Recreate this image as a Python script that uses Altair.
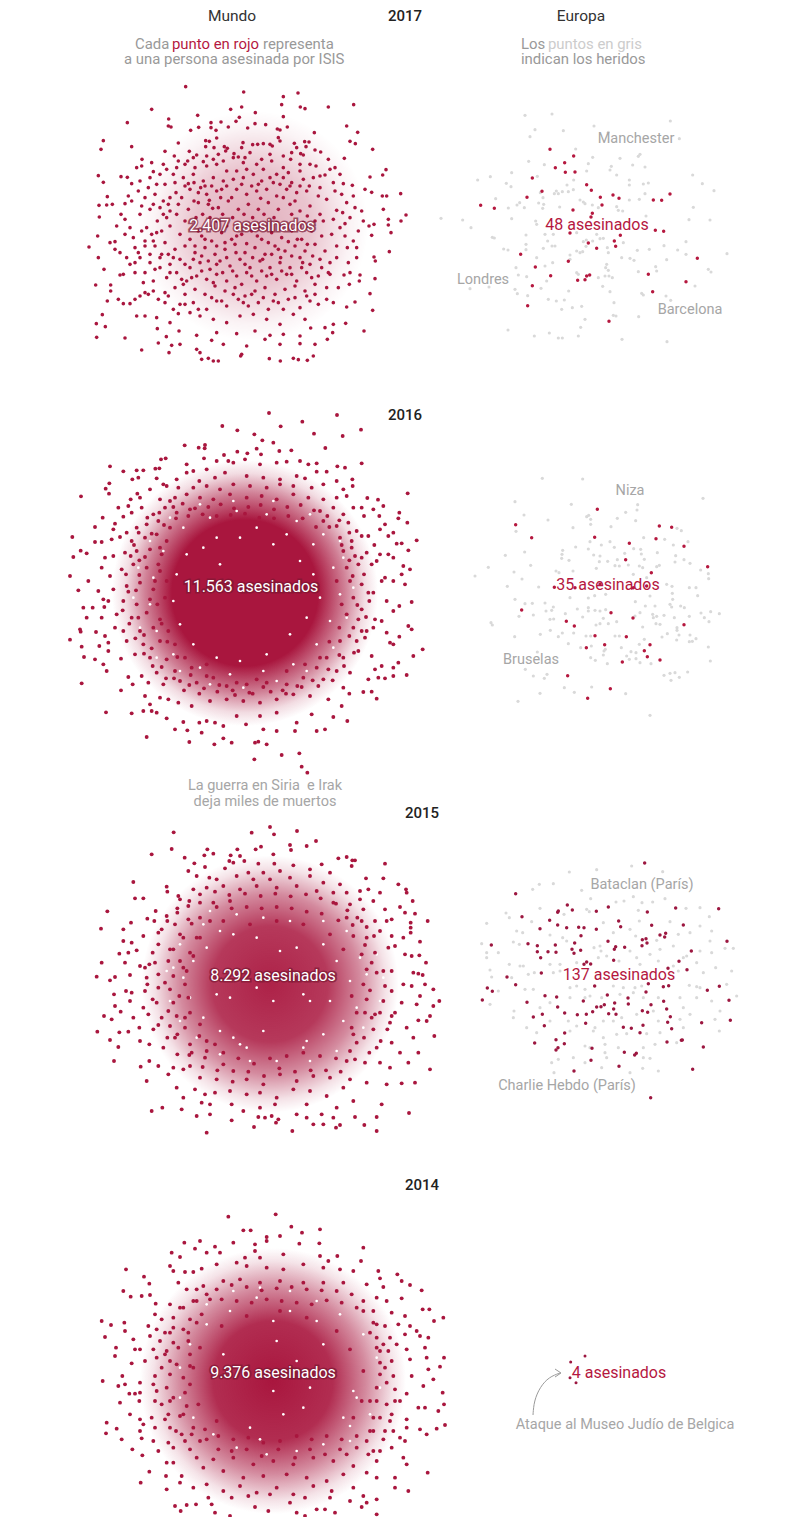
import altair as alt
import pandas as pd

RED = "#a9163e"
TXT_RED = "#b5183f"
GREY_DOT = "#d9d9d9"
GREY_TXT = "#a6a6a6"

eu2017_killed = [(360,445),(431,465),(404,485),(376,500),(406,514),(435,513),(307,531),(470,551),(484,568),(336,571),(291,589),(511,589),(549,582),(567,592),(720,579),(670,597),(695,598),(516,612),(152,613),(193,622),(429,627),(487,637),(483,648),(676,688),(701,691),(420,696),(571,703),(553,720),(475,726),(557,736),(500,742),(272,760),(802,772),(415,781),(316,798),(655,820),(479,822),(470,825),(362,824),(443,838),(465,836),(768,842),(307,854),(668,872),(293,914),(537,961)]
eu2017_injured = [(285,343),(366,339),(721,360),(492,375),(315,386),(400,389),(535,394),(300,407),(748,413),(437,444),(630,460),(625,466),(570,472),(488,469),(296,481),(343,491),(475,488),(544,496),(540,507),(608,492),(645,498),(470,510),(245,515),(181,527),(143,537),(229,547),(243,557),(322,526),(788,522),(560,522),(598,537),(598,552),(431,537),(411,552),(817,548),(852,569),(655,546),(640,549),(645,578),(430,566),(415,572),(397,572),(379,570),(373,578),(385,578),(331,575),(197,593),(269,605),(261,612),(235,621),(283,620),(326,606),(339,590),(341,610),(338,622),(450,597),(460,603),(465,608),(389,618),(487,612),(505,620),(560,617),(565,628),(578,630),(598,597),(628,595),(790,619),(33,652),(98,657),(123,680),(245,653),(317,660),(320,670),(648,645),(777,656),(840,657),(187,709),(193,711),(288,702),(288,730),(288,746),(221,744),(234,747),(345,700),(353,720),(370,700),(340,742),(366,735),(375,735),(440,695),(500,700),(520,712),(510,713),(469,717),(460,722),(488,720),(468,736),(532,740),(535,755),(580,725),(622,748),(658,745),(702,734),(743,747),(768,722),(768,760),(891,758),(710,776),(320,770),(258,800),(265,822),(290,827),(345,795),(368,785),(420,762),(420,775),(440,750),(450,755),(458,752),(530,790),(527,800),(535,808),(575,770),(600,772),(612,778),(625,812),(677,797),(680,810),(835,805),(843,813),(525,825),(537,825),(547,830),(505,830),(518,856),(440,815),(445,820),(350,840),(333,862),(255,865),(262,878),(293,884),(120,863),(177,858),(355,895),(379,900),(403,897),(416,870),(540,872),(635,877),(640,882),(708,885),(722,898),(795,855),(552,905),(395,925),(427,920),(455,916),(550,943),(558,945),(626,947),(465,955),(452,979),(234,987),(358,996),(313,1005),(385,1011),(397,1011),(445,1005),(576,1015),(711,1022)]

eu2016_killed = [(412,115),(167,161),(598,165),(635,169),(215,200),(404,199),(588,203),(508,217),(672,226),(497,266),(743,287),(574,305),(283,349),(185,417),(453,425),(519,441),(319,451),(343,465),(672,461),(405,494),(499,497),(434,521),(570,521),(379,530),(553,539),(562,557),(600,567),(487,573),(323,614),(451,653),(383,682),(345,350),(420,340),(520,350),(560,345)]
eu2016_injured = [(247,22),(368,24),(729,82),(165,92),(334,100),(533,101),(531,117),(497,124),(192,132),(264,147),(380,137),(386,133),(392,145),(527,149),(472,142),(392,160),(453,167),(339,170),(651,172),(664,179),(168,181),(551,200),(684,212),(614,205),(390,212),(424,222),(450,212),(463,229),(347,228),(385,234),(494,247),(542,235),(544,249),(521,233),(640,222),(592,245),(647,254),(308,238),(306,250),(305,262),(194,243),(136,253),(327,268),(401,252),(420,255),(418,272),(472,266),(443,271),(553,265),(672,266),(645,273),(690,277),(212,283),(85,289),(465,284),(478,285),(505,282),(538,285),(548,290),(598,283),(590,287),(409,292),(162,303),(288,300),(297,305),(339,300),(520,310),(722,297),(45,315),(186,324),(745,308),(746,323),(560,320),(620,340),(636,346),(142,346),(236,348),(688,350),(708,350),(713,374),(404,374),(437,370),(385,381),(330,380),(570,375),(637,367),(638,385),(165,385),(195,398),(217,397),(255,396),(280,408),(258,420),(275,418),(352,414),(385,410),(405,418),(420,420),(437,416),(526,392),(556,405),(585,405),(630,400),(635,408),(662,405),(673,410),(220,432),(177,436),(270,445),(281,444),(316,428),(368,438),(385,420),(430,442),(470,452),(445,458),(540,425),(525,435),(578,430),(590,436),(612,433),(580,440),(643,440),(688,436),(723,426),(733,440),(752,422),(778,428),(747,452),(93,455),(97,462),(588,458),(600,460),(408,462),(420,458),(271,478),(241,490),(164,497),(295,497),(307,486),(341,486),(378,495),(392,495),(465,495),(478,495),(548,468),(606,498),(622,488),(651,470),(651,478),(657,492),(650,507),(690,492),(708,503),(697,511),(688,512),(745,528),(325,518),(362,530),(394,525),(484,530),(538,520),(553,505),(513,542),(528,545),(500,555),(432,540),(436,535),(430,552),(392,560),(406,568),(442,578),(508,565),(528,563),(540,575),(573,578),(751,570),(232,543),(196,595),(220,615),(253,622),(261,610),(612,613),(630,607),(645,605),(633,628),(658,619),(683,603),(313,650),(395,648),(240,667),(343,664),(497,668),(174,691),(570,733)]

eu2015_killed = [(524,36),(137,128),(292,162),(265,180),(307,177),(263,184),(379,181),(415,168),(617,171),(746,173),(532,183),(156,197),(239,208),(446,210),(452,227),(545,223),(640,222),(263,222),(210,233),(290,230),(326,229),(342,230),(379,235),(333,254),(570,252),(587,247),(584,258),(528,263),(517,266),(531,276),(516,284),(771,271),(64,282),(174,278),(202,284),(256,282),(314,276),(414,271),(464,289),(437,287),(433,295),(202,302),(234,302),(258,304),(306,295),(312,307),(332,298),(664,300),(212,320),(431,328),(627,331),(350,333),(362,339),(342,340),(594,352),(651,356),(214,366),(111,378),(137,401),(374,405),(535,398),(580,407),(596,404),(748,406),(712,418),(52,411),(67,421),(528,423),(225,434),(260,438),(412,432),(474,441),(37,447),(171,454),(340,450),(475,459),(434,456),(403,461),(393,467),(380,468),(263,468),(543,461),(581,451),(777,448),(590,474),(368,482),(431,474),(517,479),(533,484),(217,490),(284,486),(322,491),(349,490),(416,488),(438,490),(190,498),(601,497),(593,514),(695,515),(781,508),(347,517),(223,524),(460,529),(484,532),(519,523),(605,533),(284,546),(510,545),(258,566),(194,576),(283,578),(591,573),(637,567),(634,568),(700,588),(264,590),(258,597),(366,592),(463,604),(499,607),(494,612),(363,628),(447,646),(668,655),(312,660),(542,740)]
eu2015_injured = [(380,56),(485,45),(298,63),(578,62),(208,100),(250,98),(188,115),(335,118),(490,137),(362,143),(462,150),(438,153),(585,143),(548,153),(516,155),(108,186),(118,200),(185,212),(50,217),(210,172),(282,190),(350,175),(358,182),(508,210),(505,178),(690,170),(718,197),(648,172),(600,212),(140,240),(158,245),(240,252),(278,260),(400,215),(430,245),(480,235),(497,255),(690,225),(660,245),(625,250),(725,240),(35,278),(130,273),(148,280),(50,305),(50,320),(85,305),(290,270),(372,290),(390,285),(393,300),(560,268),(720,270),(790,292),(765,292),(570,295),(610,285),(480,300),(540,310),(500,320),(650,315),(640,320),(690,300),(725,305),(118,340),(150,345),(160,345),(240,340),(270,340),(320,335),(385,320),(410,315),(447,330),(510,340),(565,330),(610,345),(680,335),(737,350),(60,357),(65,378),(125,380),(175,370),(193,365),(250,365),(270,360),(625,360),(700,365),(785,360),(165,415),(190,415),(300,410),(320,405),(345,415),(430,405),(460,410),(495,410),(515,405),(658,403),(680,407),(690,410),(770,400),(800,435),(60,460),(85,420),(132,480),(210,470),(240,455),(300,440),(345,440),(360,435),(395,440),(450,430),(490,425),(520,440),(565,440),(630,440),(680,440),(640,470),(725,450),(750,480),(240,510),(295,510),(320,525),(400,510),(430,510),(455,500),(500,490),(550,480),(565,510),(630,505),(660,490),(735,505),(130,500),(170,530),(300,540),(370,540),(375,530),(400,560),(440,550),(470,548),(530,548),(570,545),(640,530),(748,540),(200,545),(345,585),(360,590),(405,580),(445,590),(520,590),(555,580),(620,575),(265,625),(245,635),(310,620),(405,605),(410,620),(520,620),(540,622),(395,650),(518,652),(565,660),(252,665),(480,665),(345,635)]

eu2014_killed = [(255,45),(212,63),(210,110),(228,125)]

world2017 = [(347,257),(521,273),(684,276),(640,287),(635,311),(515,318),(482,325),(691,318),(705,323),(775,318),(851,311),(245,325),(556,335),(383,343),(296,354),(172,365),(640,347),(508,349),(498,361),(453,363),(423,365),(830,375),(295,375),(303,378),(362,388),(386,379),(423,380),(438,388),(475,378),(533,381),(555,368),(587,371),(622,384),(630,387),(652,378),(733,395),(863,394),(100,419),(93,445),(185,437),(325,426),(407,419),(418,421),(440,411),(625,410),(630,420),(704,422),(717,423),(840,421),(856,428),(908,445),(358,451),(285,451),(463,437),(472,442),(432,440),(407,437),(519,425),(515,440),(548,431),(563,430),(580,428),(600,430),(607,435),(673,427),(680,440),(708,437),(735,447),(752,453),(775,475),(823,472),(467,450),(492,458),(505,468),(525,470),(600,460),(692,458),(700,462),(216,475),(245,485),(280,490),(313,465),(325,480),(353,480),(380,462),(400,482),(430,475),(460,480),(490,470),(520,485),(560,490),(605,480),(640,500),(662,475),(690,490),(720,490),(738,495),(200,500),(215,495),(250,512),(290,505),(320,500),(345,490),(375,500),(410,495),(440,490),(470,510),(500,510),(530,505),(580,505),(620,520),(655,515),(690,510),(750,525),(780,505),(900,528),(938,522),(948,506),(85,524),(153,527),(172,529),(100,544),(185,548),(210,540),(240,530),(270,520),(310,520),(340,530),(370,520),(400,540),(430,530),(460,540),(490,535),(520,530),(550,520),(575,540),(610,545),(640,530),(665,545),(700,535),(730,530),(765,522),(790,545),(820,548),(847,553),(885,565),(905,574),(112,587),(87,613),(110,612),(127,610),(175,585),(185,600),(165,608),(205,570),(235,560),(255,580),(285,550),(315,545),(345,555),(360,565),(385,575),(410,580),(440,570),(470,555),(500,565),(530,580),(560,570),(590,565),(620,585),(650,565),(680,575),(710,570),(745,585),(770,595),(795,570),(830,605),(855,620),(937,585),(950,585),(992,578),(940,625),(1008,642),(88,648),(153,640),(165,655),(210,640),(240,625),(270,620),(295,610),(325,610),(355,625),(385,605),(415,610),(445,620),(475,600),(505,625),(535,610),(565,625),(595,605),(625,625),(660,610),(690,630),(720,615),(750,640),(800,628),(818,635),(875,630),(955,655),(993,660),(140,675),(180,680),(230,680),(262,660),(290,650),(320,640),(345,660),(700,665),(760,660),(790,655),(825,668),(880,660),(912,670),(897,675),(955,672),(963,695),(83,705),(120,725),(135,722),(165,700),(190,710),(215,690),(245,700),(275,690),(300,675),(330,700),(360,715),(395,705),(425,720),(455,695),(485,715),(515,700),(545,690),(575,715),(605,695),(635,710),(665,690),(695,715),(725,690),(755,705),(785,700),(810,680),(905,703),(57,738),(135,745),(150,755),(195,740),(225,735),(255,735),(285,725),(315,745),(345,735),(375,755),(405,740),(435,760),(465,745),(495,730),(525,755),(555,740),(585,760),(615,735),(645,750),(675,735),(705,750),(735,730),(765,750),(800,735),(832,740),(860,740),(958,752),(85,770),(170,770),(180,790),(210,770),(240,785),(270,770),(300,790),(330,775),(360,800),(390,785),(420,805),(450,780),(480,795),(510,775),(540,800),(570,780),(600,800),(630,785),(660,800),(690,770),(720,790),(750,775),(780,785),(835,785),(912,768),(916,780),(102,805),(150,822),(160,820),(195,815),(225,815),(255,805),(290,830),(320,815),(350,840),(380,825),(410,835),(440,820),(470,840),(500,825),(530,815),(560,840),(590,825),(620,835),(650,820),(680,840),(710,815),(745,825),(775,815),(822,822),(840,815),(870,822),(915,833),(77,852),(122,852),(220,845),(250,840),(285,875),(315,860),(345,880),(375,865),(405,880),(435,855),(465,870),(495,860),(525,885),(555,870),(585,860),(615,880),(645,865),(675,855),(705,870),(735,850),(770,860),(805,860),(838,850),(868,840),(900,878),(122,870),(112,900),(145,895),(160,908),(180,908),(195,895),(235,880),(265,895),(295,885),(330,910),(370,905),(410,925),(440,900),(470,915),(505,895),(535,915),(565,905),(595,925),(625,905),(655,895),(690,920),(720,900),(745,910),(855,903),(830,918),(97,941),(200,945),(225,945),(260,950),(300,965),(325,938),(360,935),(390,945),(430,955),(470,965),(510,945),(550,940),(590,955),(630,970),(670,940),(705,955),(790,970),(908,928),(79,968),(106,977),(80,1009),(165,1011),(262,983),(289,1007),(327,990),(380,1003),(440,995),(500,998),(555,990),(600,1003),(640,1000),(690,1005),(722,981),(765,980),(788,995),(827,967),(882,990),(215,1047),(265,1026),(305,1033),(330,1030),(297,1055),(380,1045),(390,1055),(425,1018),(460,1030),(515,1060),(530,1035),(585,1015),(630,1030),(690,1028),(735,1030),(772,1015),(395,1075),(415,1072),(430,1080),(445,1080),(512,1065),(598,1073),(631,1080),(670,1072),(685,1076),(712,1078),(730,1065)]
world2017_more = [(355,548),(372,545),(392,560),(418,598),(428,622),(452,590),(458,640),(488,650),(522,640),(548,650),(572,592),(582,640),(612,650),(640,590),(665,640),(675,600),(398,640),(378,650),(420,650),(440,660),(470,675),(498,680),(528,668),(555,672),(585,685),(620,665),(650,680),(678,670),(712,645),(735,660),(385,690),(405,715),(440,735),(465,725),(500,705),(530,728),(562,705),(595,725),(625,745),(655,722),(682,715),(712,730),(375,735),(395,765),(415,780),(440,790),(470,770),(498,755),(525,790),(548,770),(578,775),(605,760),(632,770),(665,765),(698,785),(728,765),(370,775),(345,790),(310,770),(295,760),(340,850),(365,830),(395,810),(430,845),(458,815),(488,810),(515,850),(545,825),(575,810),(605,820),(635,810),(665,820),(695,800),(725,830),(755,800),(280,600),(300,590),(318,575),(335,590),(372,600),(405,555),(425,555),(455,565),(485,590),(515,550),(545,555),(565,550),(600,530),(630,550),(660,555),(690,555),(718,555),(750,560),(260,550),(225,590),(250,610),(215,615),(280,640),(300,630),(260,695),(250,720),(225,720),(205,755),(275,760),(195,785),(240,760),(270,800),(300,815),(335,835),(225,875),(250,870),(210,885),(285,905),(310,925),(345,910),(385,925),(425,890),(455,900),(490,880),(520,905),(545,880),(580,890),(610,900),(640,925),(675,890),(710,885),(735,880),(770,895),(790,905),(370,470),(410,465),(445,460),(540,455),(575,475),(640,465),(665,455),(795,500),(810,520),(815,580),(850,585),(840,650),(865,690),(825,705),(850,720),(800,770),(860,770),(780,820)]

world2016 = [(627,36),(831,42),(487,75),(662,76),(727,62),(532,88),(583,100),(762,98),(848,105),(903,86),(607,118),(640,125),(374,133),(416,140),(435,132),(434,142),(590,143),(658,150),(694,148),(796,141),(532,152),(562,157),(603,160),(432,172),(492,162),(317,172),(303,175),(150,196),(190,211),(230,208),(250,208),(286,203),(298,202),(380,190),(400,210),(440,205),(470,180),(505,180),(520,185),(555,175),(600,190),(650,185),(680,182),(720,180),(745,190),(770,187),(832,196),(855,200),(905,187),(770,212),(800,212),(217,235),(235,230),(290,232),(350,235),(380,215),(418,240),(465,230),(495,215),(560,225),(610,230),(660,235),(710,225),(735,232),(830,240),(877,235),(878,255),(148,247),(137,263),(147,278),(63,286),(232,278),(270,265),(310,250),(320,255),(355,260),(400,260),(440,255),(480,265),(520,250),(570,255),(620,260),(660,250),(700,255),(755,260),(790,250),(850,265),(1043,277),(212,295),(175,320),(205,315),(240,290),(300,295),(345,290),(380,280),(420,290),(460,295),(510,280),(560,290),(605,285),(650,295),(700,280),(745,290),(790,295),(830,290),(860,285),(922,291),(954,296),(970,315),(940,325),(905,320),(128,350),(105,378),(165,368),(190,347),(215,335),(245,320),(280,340),(315,320),(350,335),(390,325),(780,330),(820,320),(850,340),(880,320),(912,345),(1018,335),(1015,352),(958,345),(160,385),(200,395),(230,380),(260,370),(295,360),(330,380),(790,360),(830,375),(865,365),(890,390),(925,405),(975,370),(960,385),(1042,365),(1000,395),(985,405),(37,408),(155,415),(180,408),(215,420),(255,410),(290,400),(320,420),(840,410),(875,420),(905,405),(1070,418),(1025,427),(1010,428),(943,432),(105,423),(125,423),(62,449),(80,457),(40,468),(135,470),(160,465),(195,455),(230,450),(270,445),(305,460),(850,450),(885,465),(920,455),(1045,448),(960,460),(985,460),(1000,470),(30,525),(125,500),(150,525),(185,505),(220,490),(260,500),(300,510),(860,500),(895,490),(935,490),(950,480),(1030,495),(1050,505),(1025,520),(85,540),(55,568),(115,570),(160,565),(200,555),(240,545),(280,565),(320,540),(870,540),(905,550),(975,530),(1000,540),(965,540),(1035,550),(130,595),(145,600),(190,600),(230,610),(270,595),(315,590),(880,590),(925,575),(940,575),(980,600),(1055,603),(1018,615),(1000,630),(70,620),(98,620),(133,618),(80,650),(125,650),(170,640),(215,650),(260,635),(300,655),(860,640),(905,625),(945,655),(965,660),(60,685),(62,692),(108,693),(165,680),(190,690),(240,690),(280,680),(325,690),(880,680),(920,690),(940,680),(1045,675),(1055,685),(980,695),(30,716),(135,705),(145,725),(200,720),(250,730),(300,720),(345,730),(840,720),(890,720),(915,710),(1018,707),(990,725),(1000,730),(65,737),(118,735),(145,750),(105,775),(72,768),(183,773),(225,760),(270,770),(320,775),(375,770),(800,770),(850,770),(895,750),(935,765),(1088,745),(1060,765),(130,790),(140,810),(205,828),(245,825),(290,815),(345,810),(395,800),(440,790),(770,800),(830,810),(870,815),(925,835),(965,795),(945,805),(1000,800),(1015,785),(1000,825),(1040,822),(975,832),(955,830),(65,847),(183,868),(218,850),(265,845),(310,850),(360,840),(410,845),(460,830),(500,855),(560,850),(620,845),(680,850),(730,830),(790,835),(850,860),(910,873),(935,872),(950,893),(868,878),(138,934),(215,937),(255,885),(270,910),(300,890),(325,895),(355,905),(395,915),(450,900),(500,895),(550,900),(600,905),(650,895),(700,880),(750,885),(805,895),(845,915),(250,930),(275,930),(290,935),(320,952),(370,963),(418,965),(440,960),(465,965),(490,975),(530,945),(558,970),(600,945),(650,935),(710,965),(755,940),(820,948),(862,960),(345,985),(382,988),(425,995),(260,1008),(388,1023),(463,1030),(490,1012),(515,1025),(610,985),(650,990),(705,990),(770,990),(795,985),(585,1025),(595,1022),(620,1030),(665,1062),(718,1057),(583,1075),(725,1097),(742,1115)]
world2016_more = [(330,300),(368,308),(405,322),(445,318),(482,310),(522,322),(565,318),(602,312),(642,325),(682,318),(722,312),(762,328),(802,345),(838,358),(868,395),(298,335),(262,350),(236,395),(222,432),(212,465),(238,478),(198,520),(205,572),(188,628),(208,668),(226,712),(252,758),(278,795),(318,832),(372,868),(418,878),(472,872),(525,882),(578,878),(632,872),(678,878),(725,858),(775,855),(818,838),(852,795),(882,755),(905,690),(918,648),(928,600),(912,520),(905,470),(875,440),(340,318),(385,345),(428,340),(470,345),(512,342),(555,338),(598,350),(642,352),(685,345),(728,352),(768,378),(808,378),(845,432),(868,478),(878,525),(892,612),(895,655),(868,705),(838,762),(805,805),(758,838),(712,855),(668,868),(610,858),(568,875),(518,868),(478,852),(432,862),(388,852),(342,832),(305,798),(275,742),(252,702),(235,650),(228,568),(238,522),(255,468),(275,398),(312,372),(348,352),(300,440),(295,490),(285,540),(292,610),(305,668),(322,722),(352,768),(392,822),(830,540),(845,610),(838,680),(808,722),(780,770),(735,790),(680,810),(590,835),(530,845),(440,825)]
gaps2016 = [(430,440),(480,490),(540,410),(640,430),(720,480),(760,520),(780,590),(740,650),(690,700),(620,760),(540,780),(470,770),(400,730),(360,670),(340,600),(350,520),(380,460),(470,410),(590,380),(680,400),(760,430),(820,500),(840,580),(810,660),(770,730),(700,790),(610,810),(510,820),(420,800),(340,760),(290,690),(270,610),(280,530),(310,450),(370,380),(450,350),(530,330),(620,340),(710,360),(790,400),(850,470),(880,560),(860,650),(820,740),(740,810),(650,840),(550,860),(450,850),(360,810),(290,770),(240,680),(220,590),(235,500),(270,420),(330,350),(420,310),(520,300),(640,300),(750,340),(840,420)]

world2015 = [(251,34),(485,35),(540,18),(621,30),(552,40),(245,84),(185,100),(678,60),(600,72),(603,87),(650,75),(513,77),(497,85),(352,85),(442,85),(343,103),(370,98),(284,110),(422,103),(450,105),(550,100),(745,112),(770,108),(787,118),(795,118),(313,127),(418,120),(430,125),(463,120),(505,128),(553,128),(610,133),(695,130),(785,135),(885,128),(295,150),(345,138),(405,142),(475,155),(520,155),(570,150),(660,145),(720,155),(130,183),(230,197),(232,212),(265,225),(320,165),(358,170),(380,175),(440,165),(490,175),(540,175),(600,170),(660,165),(700,185),(750,190),(828,172),(880,172),(925,190),(948,205),(160,232),(135,232),(270,235),(310,205),(350,200),(400,195),(450,205),(500,195),(560,200),(620,195),(680,210),(730,215),(770,215),(810,210),(835,205),(870,215),(810,235),(850,240),(968,240),(950,215),(52,271),(100,325),(123,305),(197,270),(172,293),(193,300),(230,285),(262,275),(295,255),(330,245),(370,245),(420,240),(730,245),(780,250),(820,265),(885,265),(930,258),(945,275),(975,278),(1013,300),(962,305),(962,320),(962,335),(33,323),(160,345),(125,365),(100,360),(215,325),(255,310),(295,295),(330,290),(360,300),(770,290),(815,300),(855,300),(890,300),(905,295),(140,388),(115,395),(88,398),(205,370),(240,385),(280,350),(320,350),(790,345),(830,350),(870,330),(905,345),(990,362),(940,350),(105,425),(35,425),(150,435),(165,440),(195,425),(235,420),(270,420),(310,405),(815,400),(855,395),(895,380),(915,375),(945,400),(965,405),(988,403),(1008,425),(20,467),(60,478),(75,468),(120,462),(170,470),(205,460),(250,465),(290,450),(830,445),(880,450),(905,450),(970,455),(985,458),(998,462),(1005,490),(72,520),(108,510),(125,515),(165,510),(205,500),(240,505),(285,490),(820,490),(885,495),(905,510),(940,490),(965,495),(990,525),(1030,505),(75,555),(120,540),(160,560),(200,545),(250,545),(295,530),(830,535),(880,540),(935,545),(980,550),(1030,555),(1048,540),(42,585),(65,595),(92,572),(130,590),(175,580),(215,590),(260,585),(300,575),(800,575),(855,580),(915,575),(985,598),(1010,600),(1020,585),(22,632),(88,634),(115,632),(148,620),(190,625),(240,615),(285,620),(330,610),(785,620),(850,625),(900,605),(950,620),(1033,645),(60,657),(85,678),(150,660),(178,670),(220,680),(255,650),(300,670),(350,660),(800,665),(860,680),(905,665),(930,695),(970,650),(985,695),(72,720),(152,737),(178,720),(205,735),(250,740),(300,735),(345,710),(400,730),(770,720),(825,725),(870,725),(900,740),(955,725),(1020,745),(170,780),(235,760),(280,745),(330,770),(380,775),(430,750),(470,775),(520,790),(570,760),(620,780),(670,765),(720,770),(780,775),(830,785),(890,790),(935,787),(975,785),(260,800),(315,805),(345,820),(375,815),(420,810),(470,820),(510,815),(560,830),(610,805),(660,810),(710,825),(760,800),(790,840),(280,830),(335,845),(360,850),(425,850),(460,870),(510,860),(555,850),(650,850),(740,860),(875,850),(185,870),(217,860),(275,865),(320,885),(360,880),(425,898),(505,888),(525,890),(545,885),(565,895),(620,880),(650,890),(695,880),(730,890),(795,888),(860,888),(957,876),(492,918),(558,905),(607,930),(670,910),(700,910),(738,920),(750,912),(823,912),(860,930),(350,935)]
world2015_more = [(330,220),(375,212),(418,222),(465,218),(512,225),(556,218),(602,226),(648,220),(692,232),(738,248),(772,268),(802,290),(830,318),(852,345),(298,240),(262,262),(232,300),(205,335),(188,395),(178,430),(172,490),(188,535),(205,612),(232,650),(262,700),(298,702),(338,738),(382,748),(428,782),(475,752),(522,765),(568,742),(615,752),(662,748),(708,748),(752,752),(795,715),(838,695),(872,660),(892,625),(905,585),(870,575),(840,508),(860,455),(380,258),(425,262),(470,258),(515,262),(560,258),(605,262),(650,272),(695,278),(745,298),(788,312),(825,372),(845,425),(305,308),(270,340),(250,385),(225,485),(235,570),(262,640),(305,695),(350,690),(400,695),(445,712),(492,728),(540,712),(590,705),(640,695),(690,705),(738,712),(780,690),(822,650),(845,590),(330,350),(300,395),(280,440),(268,525),(285,590),(328,645),(375,670),(790,640),(825,575),(785,525),(760,385),(720,340),(640,310),(560,300),(480,310),(400,300)]
gaps2015 = [(430,650),(450,670),(470,680),(520,630),(650,660),(640,680),(700,640),(760,600),(800,560),(720,540),(780,480),(830,460),(810,410),(740,420),(700,370),(620,380),(570,390),(500,350),(430,340),(390,330),(350,380),(310,420),(280,470),(300,530),(340,590),(390,630),(420,530),(380,520),(640,520),(660,540),(600,300),(520,290),(440,280),(360,270),(700,300),(770,330),(860,400),(880,470),(870,540),(820,620),(740,690),(660,720),(560,720),(480,720),(390,700),(320,650),(270,600),(240,540),(230,450),(270,370),(340,310),(250,440),(620,460),(550,540),(500,500)]

world2014 = [(415,47),(557,40),(604,77),(690,85),(460,88),(482,88),(636,95),(530,108),(570,105),(283,125),(330,120),(430,125),(495,130),(530,120),(628,128),(688,127),(245,155),(315,143),(350,155),(375,137),(390,155),(270,168),(820,140),(742,165),(690,165),(580,160),(510,170),(465,170),(495,150),(715,180),(813,180),(240,195),(250,210),(108,205),(285,213),(310,213),(335,203),(380,190),(440,185),(470,195),(530,200),(580,205),(640,190),(700,200),(750,205),(790,210),(865,210),(162,227),(178,248),(870,232),(922,220),(935,240),(960,252),(995,268),(100,270),(122,287),(155,285),(180,282),(265,245),(290,265),(320,265),(400,240),(450,235),(510,245),(570,240),(640,245),(700,245),(760,245),(830,250),(880,258),(935,292),(197,308),(240,310),(270,320),(310,300),(360,295),(820,300),(860,290),(890,300),(998,325),(1018,325),(905,335),(195,340),(215,355),(250,350),(300,355),(850,330),(945,345),(1060,350),(1032,360),(35,360),(63,372),(103,365),(105,390),(175,375),(200,385),(240,395),(280,385),(320,365),(860,370),(885,375),(925,370),(960,375),(980,390),(45,408),(130,415),(180,405),(210,420),(250,425),(295,420),(860,410),(900,410),(945,400),(990,405),(1015,410),(78,440),(135,445),(150,445),(190,445),(225,460),(300,460),(870,450),(920,430),(950,445),(1005,440),(75,465),(125,487),(165,480),(200,470),(260,490),(300,495),(870,485),(905,480),(960,475),(1010,470),(1062,470),(97,525),(38,540),(150,545),(195,525),(240,520),(280,530),(870,520),(910,525),(965,525),(1015,505),(1050,497),(1030,535),(85,555),(105,550),(150,575),(190,550),(230,560),(285,575),(860,560),(915,565),(950,578),(1000,555),(1058,575),(118,578),(135,578),(90,605),(148,600),(195,600),(240,600),(290,615),(840,600),(890,610),(930,600),(985,620),(1005,620),(1062,610),(1045,630),(120,640),(150,655),(185,650),(235,640),(280,640),(850,650),(900,660),(950,655),(50,665),(80,683),(48,697),(160,670),(150,690),(195,680),(240,680),(310,680),(850,690),(910,690),(950,680),(990,685),(1040,683),(1065,672),(1010,700),(95,715),(155,712),(190,720),(235,725),(285,720),(350,715),(830,720),(880,715),(930,710),(945,720),(127,745),(157,763),(205,750),(250,740),(300,745),(770,760),(850,750),(905,740),(250,785),(230,785),(320,770),(370,775),(430,770),(490,790),(550,780),(610,790),(670,770),(730,780),(790,795),(860,780),(940,770),(950,790),(178,812),(228,825),(275,825),(340,800),(400,810),(460,830),(520,825),(590,820),(650,830),(710,840),(760,820),(830,815),(860,830),(915,830),(1013,815),(152,845),(230,865),(270,845),(310,860),(350,850),(400,870),(450,855),(500,875),(560,860),(610,880),(670,855),(725,870),(790,860),(915,860),(955,870),(355,890),(365,910),(425,890),(475,885),(540,880),(600,905),(645,890),(720,890),(780,900),(820,885),(830,905),(860,895),(255,915),(290,912),(318,910),(272,930),(375,935),(420,945),(495,918),(535,930),(620,935),(645,945),(680,925),(705,925),(735,935),(815,918),(860,940)]
world2014_more = [(340,255),(380,265),(425,252),(470,258),(515,268),(560,262),(605,258),(650,265),(695,268),(740,270),(785,280),(820,330),(850,365),(320,300),(280,320),(250,380),(225,395),(230,450),(215,500),(200,570),(215,610),(225,655),(258,690),(275,700),(330,720),(385,745),(425,750),(470,745),(515,765),(565,745),(615,770),(660,745),(705,760),(750,745),(800,740),(835,760),(870,750),(885,690),(905,640),(915,600),(880,430),(895,450),(350,280),(395,295),(440,300),(485,305),(530,295),(575,300),(620,305),(665,310),(710,298),(755,305),(800,320),(840,395),(860,440),(885,500),(890,545),(860,600),(870,650),(840,690),(800,705),(755,715),(710,705),(665,715),(620,705),(570,720),(520,725),(475,710),(430,715),(385,705),(345,685),(305,700),(270,645),(250,590),(240,480),(265,440),(295,395),(335,340),(330,440),(310,500),(300,550),(325,610),(380,660),(790,650),(815,600),(820,510),(780,445),(740,390),(650,350),(570,330),(470,345),(395,375)]
gaps2014 = [(480,680),(510,715),(640,620),(700,430),(790,570),(800,590),(780,675),(760,650),(680,360),(550,360),(600,330),(500,290),(420,330),(350,370),(300,430),(270,500),(270,590),(310,650),(370,700),(440,740),(530,760),(620,750),(700,730),(780,720),(840,640),(870,560),(860,470),(820,400),(750,340),(680,300),(600,270),(510,260),(430,270),(350,310),(400,460),(560,420),(620,480),(660,560),(550,570),(580,640)]

arrow_stem = [(533,1414),(534,1400),(540,1386),(549,1376),(560,1372)]
arrow_head = [(555,1368),(561,1372),(555,1376)]


def frame(pts, ox, oy):
    return pd.DataFrame({"x": [ox + p[0] / 3 for p in pts], "y": [oy + p[1] / 3 for p in pts]})


X = alt.X("x:Q", scale=alt.Scale(domain=[8, 787]), axis=None)
Y = alt.Y("y:Q", scale=alt.Scale(domain=[8, 1509], reverse=True), axis=None)


def dots(df, color, size):
    return alt.Chart(df).mark_circle(color=color, size=size, opacity=1).encode(x=X, y=Y)


def halo(cx, cy, r, stops):
    grad = alt.RadialGradient(gradient="radial", stops=[alt.GradientStop(color=f"rgba(169,22,62,{a})", offset=o) for o, a in stops])
    return alt.Chart(pd.DataFrame({"x": [cx], "y": [cy]})).mark_circle(color=grad, size=3.1416 * r * r, opacity=1).encode(x=X, y=Y)


def polyline(pts, interpolate):
    df = pd.DataFrame({"x": [p[0] for p in pts], "y": [p[1] for p in pts], "i": list(range(len(pts)))})
    return alt.Chart(df).mark_line(color="#9a9a9a", strokeWidth=1, interpolate=interpolate).encode(x=X, y=Y, order="i:Q")


def label(rows, color, size=14.5, align="center", weight=400, **kw):
    df = pd.DataFrame(rows, columns=["t", "x", "y"])
    return alt.Chart(df).mark_text(font="Roboto", fontSize=size, color=color, align=align, baseline="middle", fontWeight=weight, **kw).encode(x=X, y=Y, text="t:N")


world_counts = [("2.407 asesinados", 252, 225), ("11.563 asesinados", 251, 586), ("8.292 asesinados", 273, 975), ("9.376 asesinados", 273, 1372)]

layers = [
    halo(253, 225, 130, [(0, 0.35), (0.5, 0.25), (0.85, 0.05), (1, 0)]),
    halo(245, 592, 150, [(0, 1), (0.55, 1), (0.75, 0.55), (0.9, 0.15), (1, 0)]),
    halo(270, 983, 145, [(0, 0.95), (0.45, 0.85), (0.7, 0.5), (0.9, 0.12), (1, 0)]),
    halo(273, 1380, 150, [(0, 1), (0.45, 0.9), (0.7, 0.5), (0.9, 0.12), (1, 0)]),
    dots(frame(gaps2016, 60, 400), "#ffffff", 7),
    dots(frame(gaps2015, 90, 820), "#ffffff", 7),
    dots(frame(gaps2014, 90, 1200), "#ffffff", 7),
    dots(frame(world2017, 70, 0), RED, 13),
    dots(frame(world2017_more, 70, 0), RED, 13),
    dots(frame(world2016, 60, 400), RED, 15),
    dots(frame(world2016_more, 60, 400), RED, 15),
    dots(frame(world2015, 90, 820), RED, 15),
    dots(frame(world2015_more, 90, 820), RED, 15),
    dots(frame(world2014, 90, 1200), RED, 15),
    dots(frame(world2014_more, 90, 1200), RED, 15),
    dots(frame(eu2017_injured, 430, 0), GREY_DOT, 10),
    dots(frame(eu2016_injured, 460, 470), GREY_DOT, 10),
    dots(frame(eu2015_injured, 470, 850), GREY_DOT, 10),
    dots(frame(eu2017_killed, 430, 0), TXT_RED, 12),
    dots(frame(eu2016_killed, 460, 470), TXT_RED, 12),
    dots(frame(eu2015_killed, 470, 850), "#9c1740", 12),
    dots(frame(eu2014_killed, 500, 1340), "#9c1740", 9),
    polyline(arrow_stem, "basis"),
    polyline(arrow_head, "linear"),
    label([("Mundo", 232, 15), ("Europa", 581, 15)], "#333333", size=15.5),
    label([("2017", 405, 15), ("2016", 405, 414), ("2015", 422, 812), ("2014", 422, 1184)], "#222222", size=15, weight=500),
    label([("Cada", 135, 44), ("representa", 263, 44), ("a una persona asesinada por ISIS", 124, 59), ("Los", 521, 44), ("indican los heridos", 521, 59)], "#999999", size=14.9, align="left"),
    label([("punto en rojo", 172, 44)], TXT_RED, size=14.9, align="left"),
    label([("puntos en gris", 548, 44)], "#cccccc", size=14.9, align="left"),
    label([("Manchester", 636, 138), ("Londres", 483, 279), ("Barcelona", 690, 309), ("Niza", 630, 490), ("Bruselas", 531, 659), ("Bataclan (París)", 642, 884), ("Charlie Hebdo (París)", 567, 1085), ("Ataque al Museo Judío de Belgica", 625, 1424), ("La guerra en Siria\u00a0 e Irak", 265, 785), ("deja miles de muertos", 265, 801)], GREY_TXT),
    label(world_counts, "#7d1733", size=16, weight=500, stroke="#7d1733", strokeWidth=3, strokeOpacity=0.7),
    label(world_counts, "#ffffff", size=16),
    label([("48 asesinados", 597, 224), ("35 asesinados", 608, 584), ("137 asesinados", 619, 974), ("4 asesinados", 619, 1372)], TXT_RED, size=16),
]

chart = alt.layer(*layers).properties(width=779, height=1501, padding=0).configure_view(stroke=None)
chart.save("out.html", embed_options={"renderer": "svg", "actions": False})
